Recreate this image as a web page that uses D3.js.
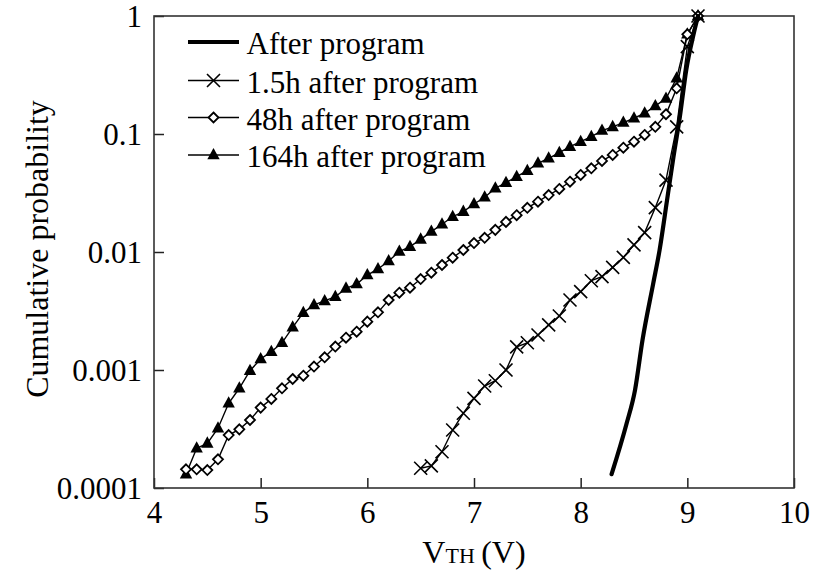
<!DOCTYPE html>
<html>
<head>
<meta charset="utf-8">
<script src="https://cdn.jsdelivr.net/npm/d3@7/dist/d3.min.js"></script>
<style>
  html, body { margin: 0; padding: 0; background: #fff; }
  svg { display: block; }
  text { font-family: "Liberation Serif", "Times New Roman", serif; fill: #000; }
</style>
</head>
<body>
<svg id="chart" width="816" height="581"></svg>
<script>
// Threshold voltage (V) and cumulative probability for each retention time
const afterProgramV = [8.29, 8.43, 8.51, 8.58, 8.68, 8.74, 8.81, 8.87, 8.93, 8.99, 9.06, 9.10];
const afterProgramP = [1.31e-4, 3.5e-4, 6.8e-4, 1.8e-3, 5.4e-3, 1.04e-2, 2.76e-2, 6.4e-2, 0.14, 0.35, 0.71, 1.0];

const h1_5V = [6.5, 6.6, 6.7, 6.8, 6.9, 7.0, 7.1, 7.2, 7.3, 7.4, 7.5, 7.6, 7.7, 7.8, 7.9,
               8.0, 8.1, 8.2, 8.3, 8.4, 8.5, 8.6, 8.7, 8.8, 8.9, 9.0, 9.1];
const h1_5P = [1.47e-4, 1.54e-4, 2.03e-4, 3.10e-4, 4.30e-4, 5.75e-4, 7.31e-4, 8.11e-4, 1.0e-3,
               1.57e-3, 1.70e-3, 1.98e-3, 2.41e-3, 2.87e-3, 3.92e-3, 4.61e-3, 5.71e-3, 6.18e-3,
               7.41e-3, 9.0e-3, 1.15e-2, 1.46e-2, 2.38e-2, 4.07e-2, 0.115, 0.55, 1.0];

const h48V = [4.3, 4.4, 4.5, 4.6, 4.7, 4.8, 4.9, 5.0, 5.1, 5.2, 5.3, 5.4, 5.5, 5.6, 5.7, 5.8,
              5.9, 6.0, 6.1, 6.2, 6.3, 6.4, 6.5, 6.6, 6.7, 6.8, 6.9, 7.0, 7.1, 7.2, 7.3, 7.4,
              7.5, 7.6, 7.7, 7.8, 7.9, 8.0, 8.1, 8.2, 8.3, 8.4, 8.5, 8.6, 8.7, 8.8, 8.9, 9.0, 9.1];
const h48P = [1.44e-4, 1.44e-4, 1.42e-4, 1.75e-4, 2.81e-4, 3.14e-4, 3.77e-4, 4.80e-4, 5.68e-4,
              7.0e-4, 8.39e-4, 8.95e-4, 1.07e-3, 1.28e-3, 1.58e-3, 1.88e-3, 2.11e-3, 2.57e-3,
              3.08e-3, 3.92e-3, 4.52e-3, 4.98e-3, 5.90e-3, 6.68e-3, 7.76e-3, 8.95e-3, 1.04e-2,
              1.19e-2, 1.32e-2, 1.54e-2, 1.8e-2, 2.05e-2, 2.37e-2, 2.67e-2, 3.04e-2, 3.42e-2,
              3.94e-2, 4.50e-2, 5.12e-2, 5.91e-2, 6.64e-2, 7.66e-2, 8.61e-2, 9.81e-2, 0.115,
              0.147, 0.244, 0.70, 1.0];

const h164V = [4.3, 4.4, 4.5, 4.6, 4.7, 4.8, 4.9, 5.0, 5.1, 5.2, 5.3, 5.4, 5.5, 5.6, 5.7, 5.8,
               5.9, 6.0, 6.1, 6.2, 6.3, 6.4, 6.5, 6.6, 6.7, 6.8, 6.9, 7.0, 7.1, 7.2, 7.3, 7.4,
               7.5, 7.6, 7.7, 7.8, 7.9, 8.0, 8.1, 8.2, 8.3, 8.4, 8.5, 8.6, 8.7, 8.8, 8.9, 9.0, 9.1];
const h164P = [1.31e-4, 2.17e-4, 2.39e-4, 3.21e-4, 5.22e-4, 7.0e-4, 9.87e-4, 1.24e-3, 1.43e-3,
               1.70e-3, 2.30e-3, 3.06e-3, 3.56e-3, 3.85e-3, 4.18e-3, 4.92e-3, 5.35e-3, 6.38e-3,
               7.18e-3, 8.39e-3, 1.01e-2, 1.11e-2, 1.28e-2, 1.49e-2, 1.72e-2, 1.99e-2, 2.20e-2,
               2.55e-2, 2.91e-2, 3.47e-2, 3.87e-2, 4.35e-2, 4.89e-2, 5.65e-2, 6.23e-2, 6.95e-2,
               7.81e-2, 8.61e-2, 9.49e-2, 0.107, 0.115, 0.125, 0.136, 0.150, 0.173, 0.200,
               0.297, 0.70, 1.0];

const legendLabels = ["After program", "1.5h after program", "48h after program", "164h after program"];
const xTicks = [4, 5, 6, 7, 8, 9, 10];
const yTicks = [0.0001, 0.001, 0.01, 0.1, 1];
const yTickLabels = ["0.0001", "0.001", "0.01", "0.1", "1"];

const svg = d3.select("#chart");
const W = 816, H = 581;
const margin = { left: 154, right: 22, top: 16, bottom: 93 };

const x = d3.scaleLinear().domain([4, 10]).range([margin.left, W - margin.right]);
const y = d3.scaleLog().domain([1e-4, 1]).range([H - margin.bottom, margin.top]);

const font = "Liberation Serif, Times New Roman, serif";

// Axes with inward ticks
const xAxis = d3.axisBottom(x).tickValues(xTicks).tickSizeInner(-10).tickSizeOuter(0)
  .tickFormat(d3.format("d"));
const gx = svg.append("g").attr("transform", `translate(0,${y(1e-4)})`).call(xAxis);
gx.select(".domain").remove();
gx.selectAll(".tick line").attr("stroke", "#222").attr("stroke-width", 1.5);
gx.selectAll(".tick text").attr("y", 35).attr("dy", 0)
  .style("font-family", font).style("font-size", "31px").attr("fill", "#000");

const yAxis = d3.axisLeft(y).tickValues(yTicks).tickSizeInner(-10).tickSizeOuter(0)
  .tickFormat((d, i) => yTickLabels[i]);
const gy = svg.append("g").attr("transform", `translate(${x(4)},0)`).call(yAxis);
gy.select(".domain").remove();
gy.selectAll(".tick line").attr("stroke", "#222").attr("stroke-width", 1.5);
gy.selectAll(".tick text").attr("x", -12).attr("dy", 10.5)
  .style("font-family", font).style("font-size", "31px").attr("fill", "#000");

// Plot frame
svg.append("rect")
  .attr("x", x(4)).attr("y", y(1))
  .attr("width", x(10) - x(4)).attr("height", y(1e-4) - y(1))
  .attr("fill", "none").attr("stroke", "#333").attr("stroke-width", 1.6);

// Axis titles
svg.append("text")
  .attr("transform", `translate(48,249) rotate(-90)`)
  .attr("text-anchor", "middle")
  .style("font-size", "32px")
  .text("Cumulative probability");

const xt = svg.append("text")
  .attr("x", x(7)).attr("y", 563)
  .attr("text-anchor", "middle")
  .style("font-size", "32px");
xt.append("tspan").text("V");
xt.append("tspan").style("font-size", "22px").text("TH");
xt.append("tspan").text("\u2009(V)");

// Marker shapes
const triPath = "M0,-7L6.2,4.3L-6.2,4.3Z";
const diaPath = "M0,-5L5,0L0,5L-5,0Z";
const crossPath = "M-6.5,-6.5L6.5,6.5M-6.5,6.5L6.5,-6.5";

const line = d3.line().x(d => x(d[0])).y(d => y(d[1]));
const zip = (a, b) => a.map((v, i) => [v, b[i]]);

const dAfter = zip(afterProgramV, afterProgramP);
const d15 = zip(h1_5V, h1_5P);
const d48 = zip(h48V, h48P);
const d164 = zip(h164V, h164P);

const plot = svg.append("g");

// Thin connecting lines
[d164, d48, d15].forEach(d => {
  plot.append("path").datum(d).attr("d", line)
    .attr("fill", "none").attr("stroke", "#000").attr("stroke-width", 1.4);
});

// 164h: filled triangles
plot.append("g").selectAll("path").data(d164).join("path")
  .attr("transform", d => `translate(${x(d[0])},${y(d[1])})`)
  .attr("d", triPath).attr("fill", "#000");

// 48h: open diamonds
plot.append("g").selectAll("path").data(d48).join("path")
  .attr("transform", d => `translate(${x(d[0])},${y(d[1])})`)
  .attr("d", diaPath).attr("fill", "#fff").attr("stroke", "#000").attr("stroke-width", 1.8);

// 1.5h: crosses
plot.append("g").selectAll("path").data(d15).join("path")
  .attr("transform", d => `translate(${x(d[0])},${y(d[1])})`)
  .attr("d", crossPath).attr("fill", "none").attr("stroke", "#000").attr("stroke-width", 1.6);

// After program: thick line
plot.append("path").datum(dAfter).attr("d", line.curve(d3.curveMonotoneX))
  .attr("fill", "none").attr("stroke", "#000").attr("stroke-width", 4.2)
  .attr("stroke-linecap", "round").attr("stroke-linejoin", "round");

// Legend
const legend = svg.append("g");
const rowY = [42, 80.5, 117.5, 155];
const lx0 = 188, lx1 = 239, lxm = (lx0 + lx1) / 2;
legendLabels.forEach((lab, i) => {
  const g = legend.append("g");
  g.append("line").attr("x1", lx0).attr("x2", lx1).attr("y1", rowY[i]).attr("y2", rowY[i])
    .attr("stroke", "#000").attr("stroke-width", i === 0 ? 4.2 : 1.4);
  const t = `translate(${lxm},${rowY[i]})`;
  if (i === 1) g.append("path").attr("transform", t).attr("d", crossPath)
    .attr("stroke", "#000").attr("stroke-width", 1.6).attr("fill", "none");
  if (i === 2) g.append("path").attr("transform", t).attr("d", diaPath)
    .attr("fill", "#fff").attr("stroke", "#000").attr("stroke-width", 1.8);
  if (i === 3) g.append("path").attr("transform", t).attr("d", triPath).attr("fill", "#000");
  g.append("text").attr("x", 246.5).attr("y", rowY[i] + 12)
    .style("font-size", "31px").text(lab);
});
</script>
</body>
</html>
